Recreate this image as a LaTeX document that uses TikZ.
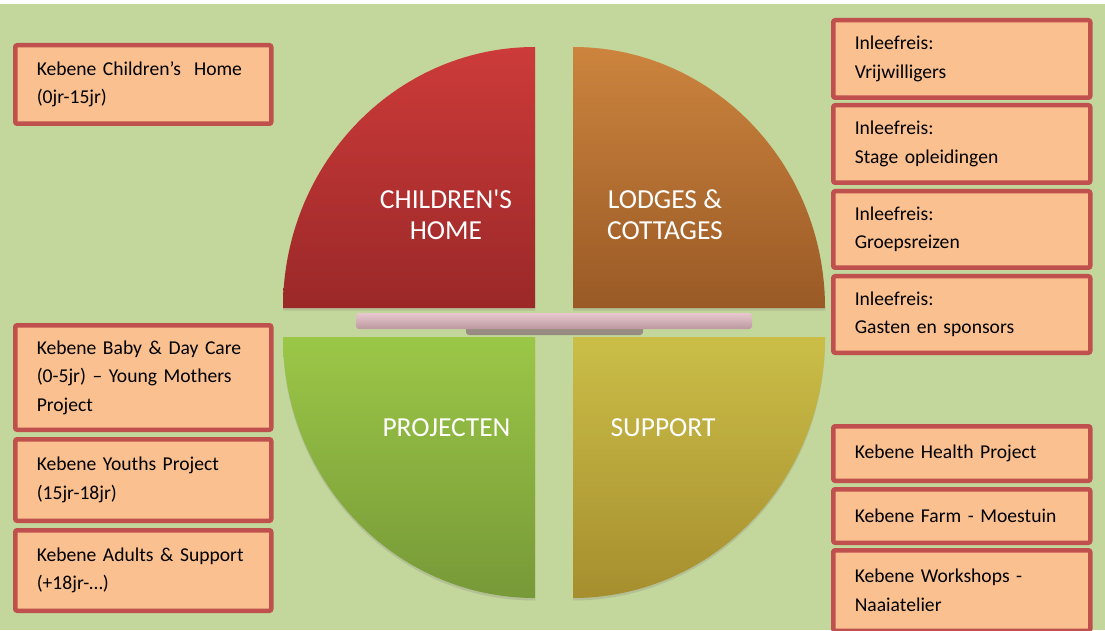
\documentclass[tikz,border=0pt]{standalone}
\usepackage{fontspec}
\setmainfont{Carlito}
\usetikzlibrary{shadows}
\definecolor{bg}{HTML}{C3D69B}
\definecolor{boxfill}{HTML}{FAC090}
\definecolor{boxred}{HTML}{C0504D}
\definecolor{redT}{HTML}{CC3B3A}
\definecolor{redB}{HTML}{9B2828}
\definecolor{oraT}{HTML}{CC843E}
\definecolor{oraB}{HTML}{9A5A26}
\definecolor{grnT}{HTML}{9BC747}
\definecolor{grnB}{HTML}{779938}
\definecolor{yelT}{HTML}{CBBE48}
\definecolor{yelB}{HTML}{A68E2E}
\definecolor{barT}{HTML}{E8C8CE}
\definecolor{barB}{HTML}{BC98A0}
\definecolor{barS}{HTML}{8E7A7C}
\newcommand{\straightquote}{\XeTeXglyph\XeTeXcharglyph"27\relax}
\begin{document}
\begin{tikzpicture}[x=1pt,y=1pt,
  box/.style={draw=boxred, fill=boxfill, line width=4.5pt, rounded corners=2pt,
    anchor=north west, inner xsep=21.5pt, inner ysep=0pt, align=left, text=black,
    font=\fontsize{19.6}{28.5}\selectfont},
  lbox/.style={box, text width=213pt},
  rbox/.style={box, text width=214pt},
  quadlabel/.style={font=\fontsize{27.5}{31}\selectfont, text=white, align=center},
  quadshade/.style={drop shadow={shadow xshift=0pt, shadow yshift=-2.5pt, opacity=0.25}}]
% background
\fill[bg] (0,0) rectangle (1105,630);
\fill[white] (0,626) rectangle (1105,630);
\useasboundingbox (0,0) rectangle (1105,630);

% quadrants
\path[quadshade, top color=redT, bottom color=redB]
  (535,322) -- (283,322) arc[start angle=180, end angle=90, x radius=252, y radius=261] -- cycle;
\path[quadshade, top color=oraT, bottom color=oraB]
  (573,322) -- (573,583) arc[start angle=90, end angle=0, x radius=252, y radius=261] -- cycle;
\path[quadshade, top color=grnT, bottom color=grnB]
  (535,293) -- (283,293) arc[start angle=180, end angle=270, x radius=252, y radius=261] -- cycle;
\path[quadshade, top color=yelT, bottom color=yelB]
  (573,293) -- (825,293) arc[start angle=0, end angle=-90, x radius=252, y radius=261] -- cycle;

\node[quadlabel] (ch) at (446,415.5) {CHILDREN\straightquote S\\HOME};
\node[quadlabel] (lc) at (665,415.5) {LODGES \&\\COTTAGES};
\node[quadlabel] (pr) at (446.5,202) {PROJECTEN};
\node[quadlabel] (su) at (663,202) {SUPPORT};

% centre bar
\fill[barS, opacity=0.8, rounded corners=3pt] (466,295) rectangle (643,305);
\shade[top color=barT, bottom color=barB, rounded corners=3pt] (356,301) rectangle (752,317);

% left boxes
\node[lbox, minimum height=78.5pt] (l1) at (13,587) {Kebene Children’s\ \ Home\\(0jr-15jr)};
\node[lbox, minimum height=104.5pt] (l2) at (13,307) {Kebene Baby \& Day Care\\(0-5jr) – Young Mothers\\Project};
\node[lbox, minimum height=81.5pt] (l3) at (13,193) {Kebene Youths Project\\(15jr-18jr)};
\node[lbox, minimum height=80.5pt] (l4) at (13,102) {Kebene Adults \& Support\\(+18jr-…)};

% right boxes
\node[rbox, minimum height=77.5pt] (r1) at (831,612) {Inleefreis:\\Vrijwilligers};
\node[rbox, minimum height=77.5pt] (r2) at (831,527) {Inleefreis:\\Stage opleidingen};
\node[rbox, minimum height=76.5pt] (r3) at (831,441) {Inleefreis:\\Groepsreizen};
\node[rbox, minimum height=76.5pt] (r4) at (831,356) {Inleefreis:\\Gasten en sponsors};
\node[rbox, minimum height=54.5pt] (r5) at (831,206) {Kebene Health Project};
\node[rbox, minimum height=53.5pt] (r6) at (831,143) {Kebene Farm - Moestuin};
\node[rbox, minimum height=80.5pt] (r7) at (831,82) {Kebene Workshops -\\Naaiatelier};
\end{tikzpicture}
\end{document}
